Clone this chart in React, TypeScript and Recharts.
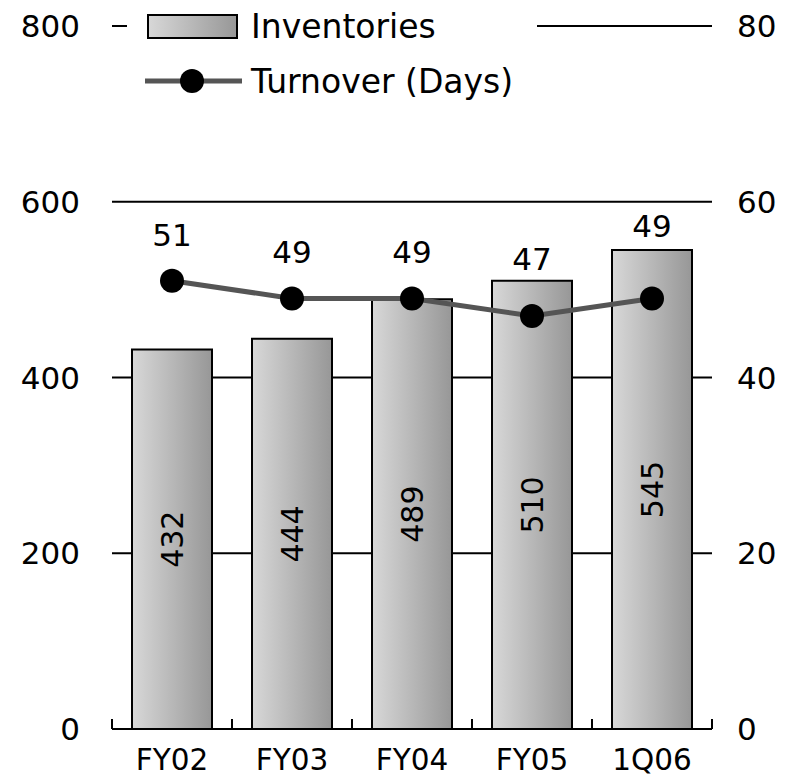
import React from 'react';
import { ComposedChart, Bar, Line, XAxis, YAxis, CartesianGrid, LabelList, Legend } from 'recharts';

const periods = ['FY02', 'FY03', 'FY04', 'FY05', '1Q06'];
const inventories = [432, 444, 489, 510, 545];
const turnoverDays = [51, 49, 49, 47, 49];
const leftTicks = [0, 200, 400, 600, 800];
const rightTicks = [0, 20, 40, 60, 80];

// how far each turnover label sits above its dot (labels were nudged clear of the bars)
const turnoverLabelLift = [35, 35, 35, 46, 61];

const data = periods.map((p, i) => ({ name: p, inventories: inventories[i], turnover: turnoverDays[i] }));

const FONT = '"DejaVu Sans", "Liberation Sans", Arial, sans-serif';

const XTick = (props: any) => {
  const { x, y, payload, index } = props;
  const half = (payload && payload.offset) || 60;
  return (
    <g>
      <line x1={x - half} y1={y} x2={x - half} y2={y - 10} stroke="#000" strokeWidth={2} />
      {index === periods.length - 1 && (
        <line x1={x + half} y1={y} x2={x + half} y2={y - 10} stroke="#000" strokeWidth={2} />
      )}
      <text x={x} y={y + 41} textAnchor="middle" fontSize={29.5} fontFamily={FONT} fill="#000">
        {payload.value}
      </text>
    </g>
  );
};

const TurnoverLabel = (props: any) => {
  const { x, y, value, index } = props;
  return (
    <text x={x} y={y - turnoverLabelLift[index]} textAnchor="middle" fontSize={31} fontFamily={FONT} fill="#000">
      {value}
    </text>
  );
};

const LegendBox = () => (
  <svg width={410} height={100} style={{ display: 'block', background: '#fff' }}>
    <defs>
      <linearGradient id="legGrad" x1="0" y1="0" x2="1" y2="0">
        <stop offset="0%" stopColor="#d8d8d8" />
        <stop offset="100%" stopColor="#979797" />
      </linearGradient>
    </defs>
    <rect x={21} y={15} width={89} height={23} fill="url(#legGrad)" stroke="#000" strokeWidth={2} />
    <text x={124} y={38} fontSize={33} fontFamily={FONT} fill="#000">Inventories</text>
    <line x1={18} y1={81} x2={115} y2={81} stroke="#555" strokeWidth={5} />
    <circle cx={65} cy={81} r={12} fill="#000" />
    <text x={124} y={93} fontSize={33} fontFamily={FONT} fill="#000">Turnover (Days)</text>
  </svg>
);

const App: React.FC = () => {
  return (
    <div style={{ position: 'absolute', left: 0, top: 0, background: '#fff' }}>
      <ComposedChart width={789} height={776} data={data} margin={{ top: 26, right: 0, bottom: 0, left: 0 }}>
        <defs>
          <linearGradient id="barGrad" x1="0" y1="0" x2="1" y2="0">
            <stop offset="0%" stopColor="#d8d8d8" />
            <stop offset="100%" stopColor="#979797" />
          </linearGradient>
        </defs>
        <CartesianGrid yAxisId="left" vertical={false} stroke="#000" strokeWidth={2} />
        <XAxis
          dataKey="name"
          height={47}
          axisLine={{ stroke: '#000', strokeWidth: 2 }}
          tickLine={false}
          tickSize={0}
          tickMargin={0}
          tick={<XTick />}
        />
        <YAxis
          yAxisId="left"
          width={112}
          domain={[0, 800]}
          ticks={leftTicks}
          axisLine={false}
          tickLine={false}
          tickSize={0}
          tickMargin={32}
          tick={{ fontSize: 31, fontFamily: FONT, fill: '#000' }}
        />
        <YAxis
          yAxisId="right"
          orientation="right"
          width={77}
          domain={[0, 80]}
          ticks={rightTicks}
          axisLine={false}
          tickLine={false}
          tickSize={0}
          tickMargin={25}
          tick={{ fontSize: 31, fontFamily: FONT, fill: '#000', textAnchor: 'start' }}
        />
        <Legend
          layout="horizontal"
          verticalAlign="middle"
          align="center"
          wrapperStyle={{ top: 0, left: 127, width: 410, height: 100 }}
          content={() => <LegendBox />}
        />
        <Bar
          yAxisId="left"
          dataKey="inventories"
          name="Inventories"
          barSize={80}
          fill="url(#barGrad)"
          stroke="#000"
          strokeWidth={2}
          isAnimationActive={false}
        >
          <LabelList dataKey="inventories" position="center" angle={-90} fontSize={30} fontFamily={FONT} fill="#000" />
        </Bar>
        <Line
          yAxisId="right"
          dataKey="turnover"
          name="Turnover (Days)"
          type="linear"
          stroke="#555"
          strokeWidth={5}
          dot={{ r: 12, fill: '#000', stroke: 'none' }}
          activeDot={false}
          isAnimationActive={false}
        >
          <LabelList dataKey="turnover" content={<TurnoverLabel />} />
        </Line>
      </ComposedChart>
    </div>
  );
};

export default App;
